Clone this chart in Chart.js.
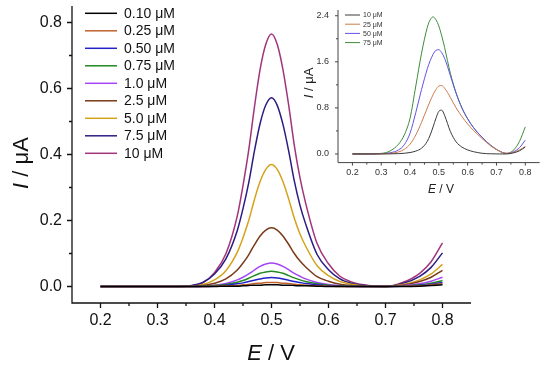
<!DOCTYPE html>
<html>
<head>
<meta charset="utf-8">
<script src="https://cdn.jsdelivr.net/npm/chart.js@4.4.1/dist/chart.umd.min.js"></script>
<style>
  body { margin: 0; background: #fff; }
  #wrap { position: relative; width: 550px; height: 367px; }
  #main { position: absolute; left: 0; top: 0; }
  #inset { position: absolute; left: 300px; top: 0; }
</style>
</head>
<body>
<div id="wrap">
  <canvas id="main" width="550" height="367"></canvas>
  <canvas id="inset" width="250" height="200"></canvas>
</div>
<script>
// Main plot: potential (V) and current (uA) for each concentration
var potential = [0.20,0.25,0.30,0.33,0.36,0.38,0.40,0.42,0.44,0.45,0.46,0.47,0.48,0.49,0.50,0.51,0.52,0.53,0.54,0.55,0.56,0.58,0.60,0.62,0.64,0.67,0.70,0.73,0.76,0.78,0.80];
var i010 = [0,0,0,0,0,0,0,0.001,0.001,0.002,0.003,0.004,0.004,0.005,0.005,0.005,0.004,0.004,0.003,0.002,0.002,0.001,0,0,0,0,0,0,0.001,0.003,0.005];
var i025 = [0,0,0,0,0,0,0.001,0.002,0.003,0.005,0.006,0.009,0.010,0.012,0.012,0.012,0.010,0.009,0.007,0.005,0.004,0.002,0.001,0,0,0,0,0.001,0.002,0.005,0.008];
var i050 = [0,0,0,0,0,0,0.001,0.004,0.008,0.011,0.015,0.019,0.023,0.026,0.027,0.026,0.023,0.019,0.015,0.012,0.009,0.005,0.002,0.001,0,0,0,0.001,0.004,0.007,0.012];
var i075 = [0,0,0,0,0,0.001,0.003,0.006,0.013,0.018,0.025,0.033,0.040,0.044,0.046,0.044,0.040,0.033,0.026,0.020,0.015,0.008,0.004,0.002,0.001,0,0,0.002,0.005,0.010,0.018];
var i100 = [0,0,0,0,0,0.001,0.004,0.009,0.020,0.028,0.038,0.050,0.061,0.068,0.071,0.068,0.061,0.051,0.040,0.031,0.023,0.012,0.006,0.003,0.001,0,0,0.003,0.008,0.016,0.028];
var i250 = [0,0,0,0,0.001,0.003,0.010,0.023,0.050,0.071,0.096,0.126,0.153,0.171,0.178,0.171,0.153,0.128,0.100,0.077,0.059,0.030,0.016,0.007,0.003,0.001,0,0.004,0.015,0.028,0.049];
var i500 = [0,0,0,0,0.001,0.006,0.020,0.048,0.104,0.148,0.200,0.263,0.318,0.355,0.370,0.355,0.318,0.266,0.207,0.159,0.122,0.063,0.033,0.015,0.007,0.001,0,0.006,0.020,0.038,0.067];
var i750 = [0,0,0,0,0.003,0.013,0.038,0.084,0.170,0.236,0.314,0.410,0.494,0.550,0.572,0.549,0.492,0.412,0.320,0.246,0.189,0.097,0.051,0.023,0.010,0.002,0,0.009,0.031,0.058,0.102];
var i1000 = [0,0,0,0,0.002,0.012,0.042,0.099,0.214,0.306,0.413,0.543,0.658,0.734,0.765,0.734,0.658,0.551,0.428,0.329,0.252,0.130,0.069,0.031,0.014,0.003,0,0.012,0.040,0.075,0.132];

var mainLabels = ["0.10 μM","0.25 μM","0.50 μM","0.75 μM","1.0 μM","2.5 μM","5.0 μM","7.5 μM","10 μM"];
var mainSeries = [i010, i025, i050, i075, i100, i250, i500, i750, i1000];
var mainColors = ["#000000","#c0622c","#2323c8","#238a23","#a545f5","#7a3a18","#d4a31c","#2c1c82","#a2347c"];

var mainXTicks = [0.2,0.3,0.4,0.5,0.6,0.7,0.8];
var mainXMinor = [0.25,0.35,0.45,0.55,0.65,0.75];
var mainYTicks = [0,0.2,0.4,0.6,0.8];
var mainYMinor = [0.1,0.3,0.5,0.7];

// Inset: higher concentrations
var insetPotential = [0.20,0.25,0.30,0.33,0.36,0.38,0.40,0.42,0.44,0.46,0.47,0.48,0.49,0.50,0.51,0.52,0.53,0.54,0.56,0.58,0.60,0.62,0.65,0.68,0.71,0.735,0.76,0.78,0.80];
var j10 = [0,0,0,0.002,0.006,0.012,0.025,0.05,0.10,0.22,0.33,0.47,0.62,0.74,0.76,0.67,0.53,0.39,0.21,0.12,0.07,0.04,0.012,0.003,0,0,0.02,0.055,0.12];
var j25 = [0,0,0.003,0.01,0.035,0.08,0.17,0.33,0.55,0.80,0.92,1.03,1.12,1.18,1.19,1.14,1.07,0.98,0.80,0.65,0.52,0.41,0.27,0.14,0.05,0.01,0.03,0.07,0.13];
var j50 = [0,0,0.005,0.02,0.07,0.16,0.36,0.72,1.12,1.48,1.62,1.73,1.80,1.81,1.76,1.66,1.52,1.36,1.05,0.80,0.61,0.46,0.29,0.15,0.05,0.01,0.04,0.11,0.24];
var j75 = [0,0,0.01,0.05,0.17,0.33,0.62,1.18,1.75,2.20,2.33,2.38,2.33,2.22,2.05,1.85,1.62,1.40,1.06,0.80,0.61,0.46,0.29,0.15,0.05,0.01,0.07,0.22,0.47];

var insetLabels = ["10 μM","25 μM","50 μM","75 μM"];
var insetSeries = [j10, j25, j50, j75];
var insetColors = ["#3a3a3a","#cc7a4e","#6252e6","#3c8c3c"];

var insetXTicks = [0.2,0.3,0.4,0.5,0.6,0.7,0.8];
var insetXMinor = [0.25,0.35,0.45,0.55,0.65,0.75];
var insetYTicks = [0,0.8,1.6,2.4];
var insetYMinor = [0.4,1.2,2.0];

var FONT = "'Liberation Sans', Arial, sans-serif";

function makeDatasets(xs, series, labels, colors, width) {
    return series.map(function (s, k) {
        return {
            label: labels[k],
            data: xs.map(function (x, i) { return { x: x, y: s[i] }; }),
            borderColor: colors[k],
            borderWidth: width,
            pointRadius: 0,
            fill: false,
            cubicInterpolationMode: 'monotone'
        };
    });
}

// draw text where some parts are italic
function mixedText(ctx, parts, size, x, y, angle) {
    ctx.save();
    ctx.translate(x, y);
    ctx.rotate(angle);
    ctx.textBaseline = 'alphabetic';
    ctx.textAlign = 'left';
    var total = 0;
    parts.forEach(function (p) {
        ctx.font = (p.italic ? 'italic ' : '') + size + 'px ' + FONT;
        p.w = ctx.measureText(p.t).width;
        total += p.w;
    });
    var cx = -total / 2;
    parts.forEach(function (p) {
        ctx.font = (p.italic ? 'italic ' : '') + size + 'px ' + FONT;
        ctx.fillText(p.t, cx, 0);
        cx += p.w;
    });
    ctx.restore();
}

function framePlugin(o) {
    return {
        id: 'frame',
        afterDraw: function (chart) {
            var ctx = chart.ctx, a = chart.chartArea;
            var xs = chart.scales.x, ys = chart.scales.y;
            ctx.save();
            ctx.strokeStyle = o.axisColor;
            ctx.lineWidth = o.axisWidth;
            ctx.beginPath();
            ctx.moveTo(a.left, a.top);
            ctx.lineTo(a.left, a.bottom);
            ctx.lineTo(a.right, a.bottom);
            o.xTicks.forEach(function (v) { var p = xs.getPixelForValue(v); ctx.moveTo(p, a.bottom); ctx.lineTo(p, a.bottom + o.major); });
            o.xMinor.forEach(function (v) { var p = xs.getPixelForValue(v); ctx.moveTo(p, a.bottom); ctx.lineTo(p, a.bottom + o.minor); });
            o.yTicks.forEach(function (v) { var p = ys.getPixelForValue(v); ctx.moveTo(a.left, p); ctx.lineTo(a.left - o.major, p); });
            o.yMinor.forEach(function (v) { var p = ys.getPixelForValue(v); ctx.moveTo(a.left, p); ctx.lineTo(a.left - o.minor, p); });
            ctx.stroke();

            // legend
            ctx.lineWidth = o.legend.lineWidth;
            ctx.font = o.legend.size + 'px ' + FONT;
            ctx.textBaseline = 'middle';
            ctx.textAlign = 'left';
            ctx.fillStyle = o.legend.textColor;
            chart.data.datasets.forEach(function (ds, i) {
                var y = o.legend.y0 + i * o.legend.step;
                ctx.strokeStyle = ds.borderColor;
                ctx.beginPath();
                ctx.moveTo(o.legend.x0, y);
                ctx.lineTo(o.legend.x1, y);
                ctx.stroke();
                ctx.fillText(ds.label, o.legend.tx, y + 0.5);
            });

            // axis titles
            ctx.fillStyle = o.titleColor;
            mixedText(ctx, [{ t: 'E', italic: true }, { t: ' / V' }], o.titleSize, o.xTitle[0], o.xTitle[1], 0);
            mixedText(ctx, [{ t: 'I', italic: true }, { t: ' / μA' }], o.yTitleSize, o.yTitle[0], o.yTitle[1], -Math.PI / 2);
            ctx.restore();
        }
    };
}

function scaleOpts(min, max, ticksList, majors, size, color, padding, fitSize, horizontal) {
    return {
        type: 'linear',
        min: min,
        max: max,
        grid: { display: false, drawTicks: false },
        border: { display: false },
        afterBuildTicks: function (scale) {
            scale.ticks = ticksList.map(function (v) { return { value: v }; });
        },
        afterFit: function (scale) {
            if (horizontal) { scale.height = fitSize; } else { scale.width = fitSize; }
            scale.paddingTop = 0; scale.paddingBottom = 0;
            scale.paddingLeft = 0; scale.paddingRight = 0;
        },
        ticks: {
            autoSkip: false,
            maxRotation: 0,
            padding: padding,
            color: color,
            font: { family: FONT, size: size },
            callback: function (value) {
                return majors.some(function (m) { return Math.abs(m - value) < 1e-9; }) ? value.toFixed(1) : '';
            }
        }
    };
}

// Main chart
new Chart(document.getElementById('main'), {
    type: 'line',
    data: { datasets: makeDatasets(potential, mainSeries, mainLabels, mainColors, 1.5) },
    options: {
        responsive: false,
        animation: false,
        devicePixelRatio: 1,
        events: [],
        layout: { padding: { top: 6, right: 79, left: 0, bottom: 0 } },
        plugins: { legend: { display: false }, tooltip: { enabled: false } },
        scales: {
            x: scaleOpts(0.15, 0.85, mainXTicks, mainXTicks, 16, '#111', 8, 64, true),
            y: scaleOpts(-0.05, 0.85, mainYTicks, mainYTicks, 16, '#111', 10, 72, false)
        }
    },
    plugins: [framePlugin({
        axisColor: '#111', axisWidth: 1.3, major: 5, minor: 3,
        xTicks: mainXTicks, xMinor: mainXMinor, yTicks: mainYTicks, yMinor: mainYMinor,
        legend: { x0: 85, x1: 117, tx: 124, y0: 13.3, step: 17.5, size: 14, lineWidth: 1.5, textColor: '#111' },
        titleColor: '#111', titleSize: 22, yTitleSize: 22,
        xTitle: [271, 360], yTitle: [28, 163]
    })]
});

// Inset chart
new Chart(document.getElementById('inset'), {
    type: 'line',
    data: { datasets: makeDatasets(insetPotential, insetSeries, insetLabels, insetColors, 1) },
    options: {
        responsive: false,
        animation: false,
        devicePixelRatio: 1,
        events: [],
        layout: { padding: { top: 10, right: 10.3, left: 0, bottom: 0 } },
        plugins: { legend: { display: false }, tooltip: { enabled: false } },
        scales: {
            x: scaleOpts(0.15, 0.85, insetXTicks, insetXTicks, 9, '#333', 5, 37.4, true),
            y: scaleOpts(-0.15, 2.5, insetYTicks, insetYTicks, 9, '#333', 9, 38, false)
        }
    },
    plugins: [framePlugin({
        axisColor: '#444', axisWidth: 1, major: 3, minor: 2,
        xTicks: insetXTicks, xMinor: insetXMinor, yTicks: insetYTicks, yMinor: insetYMinor,
        legend: { x0: 45, x1: 60, tx: 63, y0: 15, step: 9.2, size: 7, lineWidth: 1, textColor: '#333' },
        titleColor: '#222', titleSize: 12, yTitleSize: 13,
        xTitle: [141, 193], yTitle: [13, 83]
    })]
});
</script>
</body>
</html>
